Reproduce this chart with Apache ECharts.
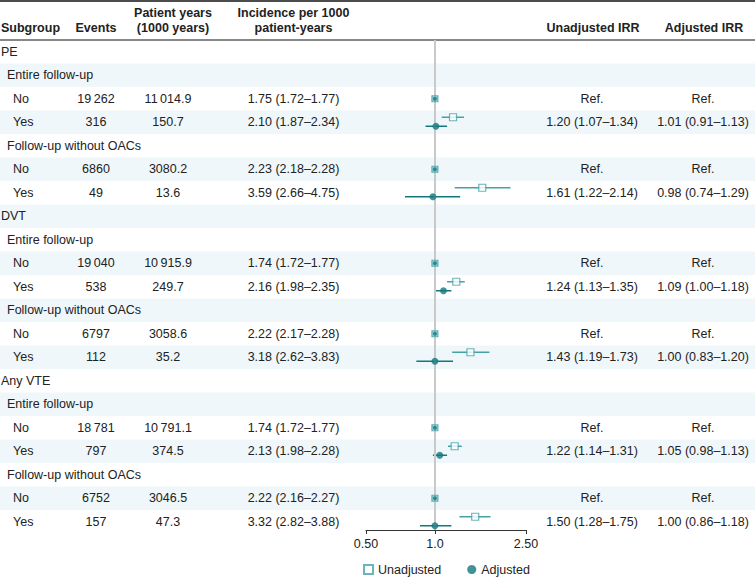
<!DOCTYPE html>
<html>
<head>
<meta charset="utf-8">
<script src="https://cdn.jsdelivr.net/npm/echarts@6/dist/echarts.min.js"></script>
<style>html,body{margin:0;padding:0;background:#fff;}#c{width:755px;height:582px;}</style>
</head>
<body>
<div id="c"></div>
<script>
// ---------- data ----------
const subgroups = ['PE','Entire follow-up','No','Yes','Follow-up without OACs','No','Yes',
  'DVT','Entire follow-up','No','Yes','Follow-up without OACs','No','Yes',
  'Any VTE','Entire follow-up','No','Yes','Follow-up without OACs','No','Yes'];
const levels = [0,1,2,2,1,2,2, 0,1,2,2,1,2,2, 0,1,2,2,1,2,2];
const events = ['','','19\u2009262','316','','6860','49',
  '','','19\u2009040','538','','6797','112',
  '','','18\u2009781','797','','6752','157'];
const patientYears = ['','','11\u2009014.9','150.7','','3080.2','13.6',
  '','','10\u2009915.9','249.7','','3058.6','35.2',
  '','','10\u2009791.1','374.5','','3046.5','47.3'];
const incidence = ['','','1.75 (1.72–1.77)','2.10 (1.87–2.34)','','2.23 (2.18–2.28)','3.59 (2.66–4.75)',
  '','','1.74 (1.72–1.77)','2.16 (1.98–2.35)','','2.22 (2.17–2.28)','3.18 (2.62–3.83)',
  '','','1.74 (1.72–1.77)','2.13 (1.98–2.28)','','2.22 (2.16–2.27)','3.32 (2.82–3.88)'];
const refRows = [2,5,9,12,16,19];
const estRows = [3,6,10,13,17,20];
const unadjEst = [1.20,1.61,1.24,1.43,1.22,1.50];
const unadjLo  = [1.07,1.22,1.13,1.19,1.14,1.28];
const unadjHi  = [1.34,2.14,1.35,1.73,1.31,1.75];
const adjEst = [1.01,0.98,1.09,1.00,1.05,1.00];
const adjLo  = [0.91,0.74,1.00,0.83,0.98,0.86];
const adjHi  = [1.13,1.29,1.18,1.20,1.13,1.18];
const axisTicks = [0.5, 1.0, 2.5];
const axisTickLabels = ['0.50','1.0','2.50'];

// ---------- styling ----------
const FONT = "'Liberation Sans', Arial, Helvetica, sans-serif";
const FS = 12.5;
const TXT = '#222';
const C_UN = '#46a1a7';
const C_AD = '#12787e';
const SHADE = '#eff7fa';
const ROW_H = 23.5, TOP = 40;
const NROWS = subgroups.length;
const col = {sub:[1,7,13], events:96, py:168, inc:293.5, un:592, ad:703};

const fmt = v => v.toFixed(2);
const irrText = (e,l,h) => fmt(e) + ' (' + fmt(l) + '–' + fmt(h) + ')';
const unText = new Array(NROWS).fill('');
const adText = new Array(NROWS).fill('');
refRows.forEach(r => { unText[r] = 'Ref.'; adText[r] = 'Ref.'; });
estRows.forEach((r,k) => {
  unText[r] = irrText(unadjEst[k], unadjLo[k], unadjHi[k]);
  adText[r] = irrText(adjEst[k], adjLo[k], adjHi[k]);
});

const chart = echarts.init(document.getElementById('c'), null, {renderer:'svg'});

const tableRows = subgroups.map((s,i) => [0, i]);
const shadeRows = subgroups.map((s,i) => [0, i]).filter(d => d[1] % 2 === 1);

function txt(x, y, text, align, bold) {
  return {type:'text', style:{x:x, y:y, text:text, textAlign:align, textVerticalAlign:'middle',
    font:(bold?'bold ':'') + FS + 'px ' + FONT, fill:TXT}};
}

const forestMax = (530 - TOP) / ROW_H;

const option = {
  animation:false,
  backgroundColor:'#fff',
  textStyle:{fontFamily:FONT},
  grid:[
    {left:0, width:755, top:TOP, height:ROW_H*NROWS},
    {left:366, width:160, top:TOP, height:530-TOP}
  ],
  xAxis:[
    {gridIndex:0, type:'value', min:0, max:755, show:false},
    {gridIndex:1, type:'log', logBase:10, min:0.5, max:2.5, position:'bottom',
      axisLine:{show:true, onZero:false, lineStyle:{color:'#333', width:1}},
      axisTick:{show:true, length:4, lineStyle:{color:'#333'}, customValues:axisTicks},
      axisLabel:{show:true, customValues:axisTicks, color:TXT, fontSize:FS, fontFamily:FONT, margin:7,
        formatter:function(v){ const k = axisTicks.findIndex(t => Math.abs(t - v) < 1e-6); return k >= 0 ? axisTickLabels[k] : ''; }},
      minorTick:{show:false}, splitLine:{show:false}, minorSplitLine:{show:false}}
  ],
  yAxis:[
    {gridIndex:0, type:'value', min:0, max:NROWS, inverse:true, show:false},
    {gridIndex:1, type:'value', min:0, max:forestMax, inverse:true, show:false}
  ],
  legend:{
    left:358, top:558, itemWidth:9, itemHeight:9, itemGap:26,
    textStyle:{fontSize:FS, color:TXT, fontFamily:FONT},
    data:[{name:'Unadjusted', icon:'rect'}, {name:'Adjusted', icon:'circle'}]
  },
  graphic:[
    {type:'line', shape:{x1:0, y1:1, x2:755, y2:1}, style:{stroke:'#111', lineWidth:1.5}},
    {type:'line', shape:{x1:0, y1:40, x2:755, y2:40}, style:{stroke:'#111', lineWidth:1}},
    {type:'group', children:[
      txt(1, 28, 'Subgroup', 'left', true),
      txt(col.events, 28, 'Events', 'center', true),
      txt(173, 13, 'Patient years', 'center', true),
      txt(173, 28, '(1000 years)', 'center', true),
      txt(col.inc, 13, 'Incidence per 1000', 'center', true),
      txt(col.inc, 28, 'patient-years', 'center', true),
      txt(593, 28, 'Unadjusted IRR', 'center', true),
      txt(704, 28, 'Adjusted IRR', 'center', true)
    ]}
  ],
  series:[
    {name:'shade', type:'custom', xAxisIndex:0, yAxisIndex:0, z:0, silent:true,
      data:shadeRows, encode:{x:0, y:1},
      renderItem:function(params, api){
        const i = api.value(1);
        const p1 = api.coord([0, i]), p2 = api.coord([755, i+1]);
        return {type:'rect', shape:{x:p1[0], y:p1[1], width:p2[0]-p1[0], height:p2[1]-p1[1]}, style:{fill:SHADE}};
      }},
    {name:'table', type:'custom', xAxisIndex:0, yAxisIndex:0, z:2, silent:true,
      data:tableRows, encode:{x:0, y:1},
      renderItem:function(params, api){
        const i = api.value(1);
        const y = api.coord([0, i+0.5])[1];
        const cx = x => api.coord([x, i+0.5])[0];
        const ch = [txt(cx(col.sub[levels[i]]), y, subgroups[i], 'left', false)];
        if (events[i]) ch.push(txt(cx(col.events), y, events[i], 'center', false));
        if (patientYears[i]) ch.push(txt(cx(col.py), y, patientYears[i], 'center', false));
        if (incidence[i]) ch.push(txt(cx(col.inc), y, incidence[i], 'center', false));
        if (unText[i]) ch.push(txt(cx(col.un), y, unText[i], 'center', false));
        if (adText[i]) ch.push(txt(cx(col.ad), y, adText[i], 'center', false));
        return {type:'group', children:ch};
      }},
    {name:'refline', type:'line', xAxisIndex:1, yAxisIndex:1, data:[], z:3, silent:true,
      markLine:{silent:true, symbol:'none', label:{show:false}, animation:false,
        lineStyle:{color:'#c9c9c9', width:2, type:'solid'}, data:[{xAxis:1}]}},
    {name:'unCI', type:'custom', xAxisIndex:1, yAxisIndex:1, z:4, silent:true,
      data:estRows.map((r,k) => [unadjLo[k], unadjHi[k], r+0.5]), encode:{x:[0,1], y:2},
      renderItem:function(params, api){
        const a = api.coord([api.value(0), api.value(2)]), b = api.coord([api.value(1), api.value(2)]);
        return {type:'line', shape:{x1:a[0], y1:a[1]-5, x2:b[0], y2:a[1]-5}, style:{stroke:C_UN, lineWidth:1.5}};
      }},
    {name:'adCI', type:'custom', xAxisIndex:1, yAxisIndex:1, z:4, silent:true,
      data:estRows.map((r,k) => [adjLo[k], adjHi[k], r+0.5]), encode:{x:[0,1], y:2},
      renderItem:function(params, api){
        const a = api.coord([api.value(0), api.value(2)]), b = api.coord([api.value(1), api.value(2)]);
        return {type:'line', shape:{x1:a[0], y1:a[1]+4, x2:b[0], y2:a[1]+4}, style:{stroke:C_AD, lineWidth:1.5}};
      }},
    {name:'Unadjusted', type:'scatter', xAxisIndex:1, yAxisIndex:1, z:5, symbol:'rect', symbolSize:7,
      symbolOffset:[0,-5], itemStyle:{color:'#fff', borderColor:C_UN, borderWidth:1.2},
      data:estRows.map((r,k) => [unadjEst[k], r+0.5]).concat(
        refRows.map(r => ({value:[1, r+0.5], symbolSize:6, symbolOffset:[0,0], itemStyle:{color:'#8cc6ca'}})))},
    {name:'Adjusted', type:'scatter', xAxisIndex:1, yAxisIndex:1, z:6, symbol:'circle', symbolSize:7,
      symbolOffset:[0,4], itemStyle:{color:C_AD},
      data:estRows.map((r,k) => [adjEst[k], r+0.5]).concat(
        refRows.map(r => ({value:[1, r+0.5], symbolSize:4, symbolOffset:[0,0]})))}
  ]
};
chart.setOption(option);
</script>
</body>
</html>
